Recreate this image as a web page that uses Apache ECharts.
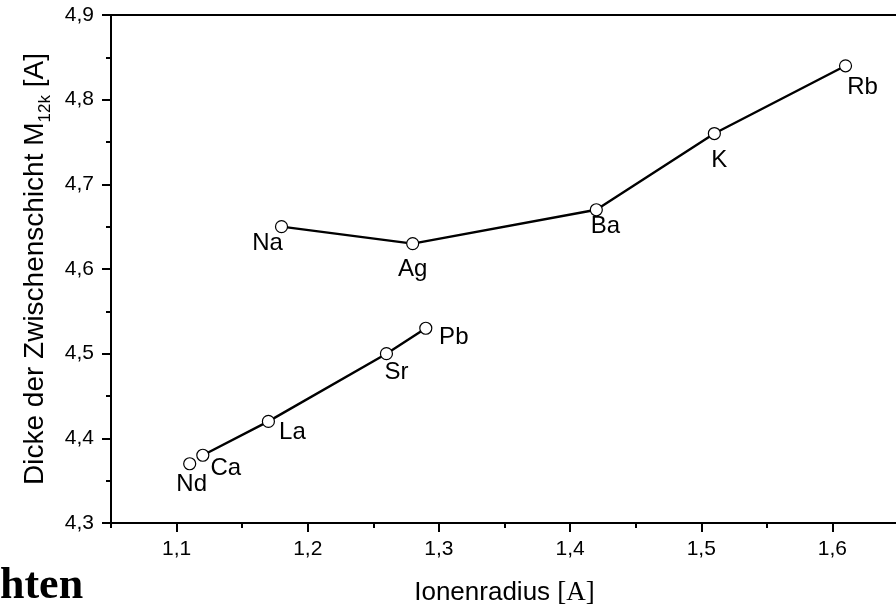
<!DOCTYPE html>
<html>
<head>
<meta charset="utf-8">
<script src="https://cdn.jsdelivr.net/npm/echarts@6/dist/echarts.min.js"></script>
<style>
html,body{margin:0;padding:0;background:#fff;}
#c{width:896px;height:605px;}
</style>
</head>
<body>
<div id="c"></div>
<script>
// Data
var upperNames = ['Na', 'Ag', 'Ba', 'K', 'Rb'];
var upperX = [1.18, 1.28, 1.42, 1.51, 1.61];
var upperY = [4.65, 4.63, 4.67, 4.76, 4.84];

var lowerNames = ['Ca', 'La', 'Sr', 'Pb'];
var lowerX = [1.12, 1.17, 1.26, 1.29];
var lowerY = [4.38, 4.42, 4.50, 4.53];

var singleNames = ['Nd'];
var singleX = [1.11];
var singleY = [4.37];

var xTicks = [1.1, 1.2, 1.3, 1.4, 1.5, 1.6];
var xMinorTicks = [1.05, 1.15, 1.25, 1.35, 1.45, 1.55, 1.65];
var yTicks = [4.3, 4.4, 4.5, 4.6, 4.7, 4.8, 4.9];
var yMinorTicks = [4.35, 4.45, 4.55, 4.65, 4.75, 4.85];

// Label placement (pixel offsets from point)
var labelOffset = {
  Na: [-14, 17], Ag: [0, 26], Ba: [9, 17], K: [5, 27], Rb: [17, 22],
  Nd: [2, 21], Ca: [23, 13], La: [24, 11], Sr: [10, 19], Pb: [28, 9]
};

function build(names, xs, ys) {
  return names.map(function (n, i) {
    return {
      name: n,
      value: [xs[i], ys[i]],
      label: { offset: labelOffset[n] }
    };
  });
}

var fontSans = 'Liberation Sans, Arial, sans-serif';
function fmt(v) { return (Math.round(v * 10) / 10).toFixed(1).replace('.', ','); }

var seriesCommon = {
  type: 'line',
  symbol: 'circle',
  symbolSize: 12,
  showSymbol: true,
  xAxisIndex: 0,
  yAxisIndex: 0,
  itemStyle: { color: '#fff', borderColor: '#000', borderWidth: 1.2 },
  lineStyle: { color: '#000', width: 2.4 },
  emphasis: { disabled: true },
  animation: false,
  z: 3,
  label: {
    show: true,
    position: 'inside',
    formatter: '{b}',
    color: '#000',
    fontFamily: fontSans,
    fontSize: 24
  }
};

var axisLineStyle = { color: '#000', width: 2 };

var chart = echarts.init(document.getElementById('c'), null, { renderer: 'canvas' });
chart.setOption({
  backgroundColor: '#fff',
  animation: false,
  grid: {
    left: 111, top: 15, right: -2, bottom: 82,
    containLabel: false,
    outerBoundsMode: 'none',
    show: true, borderColor: '#000', borderWidth: 2, backgroundColor: 'transparent'
  },
  xAxis: [{
    type: 'value',
    min: 1.05, max: 1.65, interval: 0.05,
    axisLine: { show: true, lineStyle: axisLineStyle },
    axisTick: { show: true, inside: false, length: 9, customValues: xTicks, lineStyle: { color: '#000', width: 2 } },
    splitLine: { show: false },
    axisLabel: {
      color: '#000', fontFamily: fontSans, fontSize: 21, margin: 16,
      customValues: xTicks,
      formatter: fmt
    },
    name: '{a|Ionenradius }{b|[A]}',
    nameLocation: 'middle',
    nameGap: 56,
    nameTextStyle: {
      rich: {
        a: { fontFamily: fontSans, fontSize: 26, color: '#000' },
        b: { fontFamily: 'Liberation Serif, Times New Roman, serif', fontSize: 27, color: '#000' }
      }
    }
  }, {
    type: 'value',
    position: 'bottom',
    min: 1.05, max: 1.65, interval: 0.05,
    axisLine: { show: false },
    axisTick: { show: true, inside: false, length: 5, customValues: xMinorTicks, lineStyle: { color: '#000', width: 2 } },
    axisLabel: { show: false },
    splitLine: { show: false }
  }],
  yAxis: [{
    type: 'value',
    min: 4.3, max: 4.9, interval: 0.05,
    axisLine: { show: true, lineStyle: axisLineStyle },
    axisTick: { show: true, inside: false, length: 9, customValues: yTicks, lineStyle: { color: '#000', width: 2 } },
    splitLine: { show: false },
    axisLabel: {
      color: '#000', fontFamily: fontSans, fontSize: 21, margin: 17,
      customValues: yTicks,
      formatter: fmt
    },
    name: '{a|Dicke der Zwischenschicht M}{s|12k}{a| [A]}',
    nameLocation: 'middle',
    nameGap: 60,
    nameRotate: 90,
    nameTextStyle: {
      rich: {
        a: { fontFamily: fontSans, fontSize: 28, color: '#000', verticalAlign: 'bottom', lineHeight: 32 },
        s: { fontFamily: fontSans, fontSize: 17, color: '#000', verticalAlign: 'bottom', lineHeight: 20, padding: [0, 0, -5, 0] }
      }
    }
  }, {
    type: 'value',
    position: 'left',
    min: 4.3, max: 4.9, interval: 0.05,
    axisLine: { show: false },
    axisTick: { show: true, inside: false, length: 5, customValues: yMinorTicks, lineStyle: { color: '#000', width: 2 } },
    axisLabel: { show: false },
    splitLine: { show: false }
  }],
  series: [
    Object.assign({}, seriesCommon, { name: 'upper', data: build(upperNames, upperX, upperY) }),
    Object.assign({}, seriesCommon, { name: 'lower', data: build(lowerNames, lowerX, lowerY) }),
    Object.assign({}, seriesCommon, { name: 'single', data: build(singleNames, singleX, singleY) })
  ],
  graphic: [{
    type: 'text',
    left: 0,
    top: 565,
    style: {
      text: 'hten',
      font: 'bold 44px "Liberation Serif", "Times New Roman", serif',
      fill: '#000'
    }
  }]
});
</script>
</body>
</html>
